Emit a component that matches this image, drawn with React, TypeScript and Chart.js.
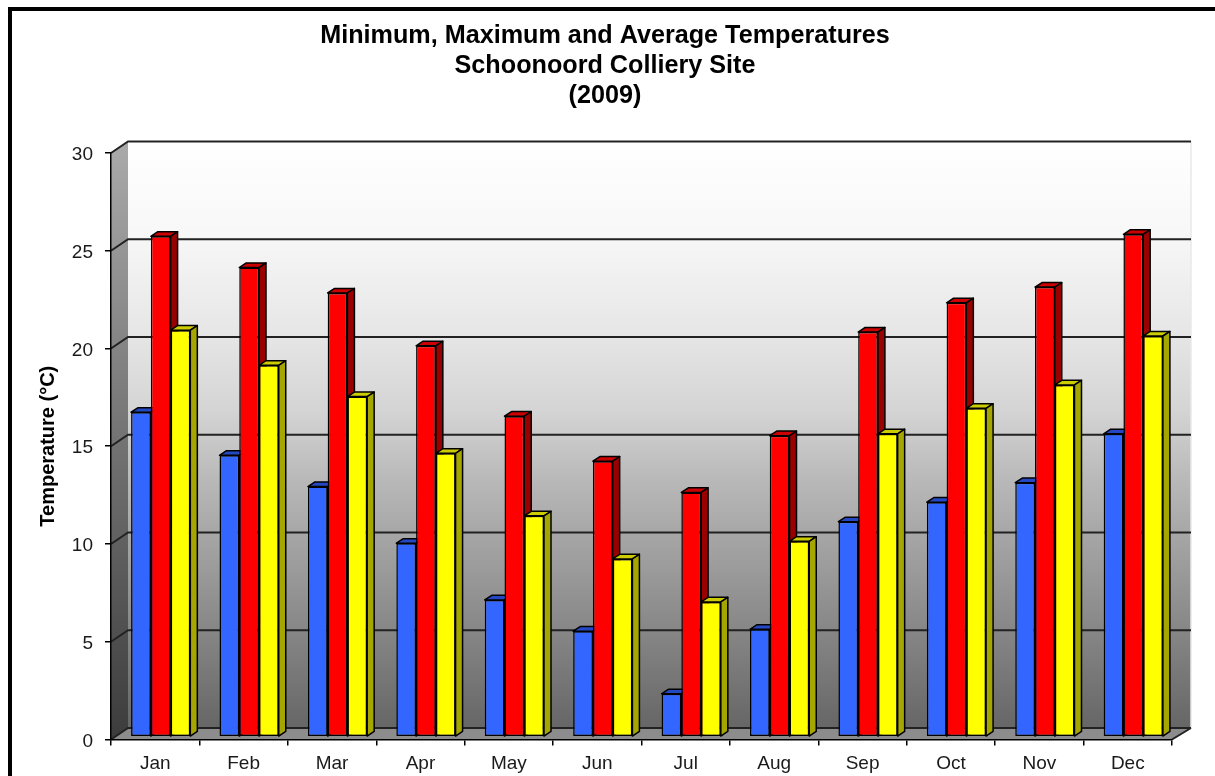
import React, { useEffect, useRef } from "react";
import { Chart, registerables } from "chart.js";

Chart.register(...registerables);

const months = ["Jan", "Feb", "Mar", "Apr", "May", "Jun", "Jul", "Aug", "Sep", "Oct", "Nov", "Dec"];
const minTemps = [16.6, 14.4, 12.8, 9.9, 7.0, 5.4, 2.2, 5.5, 11.0, 12.0, 13.0, 15.5];
const maxTemps = [25.6, 24.0, 22.7, 20.0, 16.4, 14.1, 12.5, 15.4, 20.7, 22.2, 23.0, 25.7];
const avgTemps = [20.8, 19.0, 17.4, 14.5, 11.3, 9.1, 6.9, 10.0, 15.5, 16.8, 18.0, 20.5];
const titleLines = ["Minimum, Maximum and Average Temperatures", "Schoonoord Colliery Site", "(2009)"];

const FONT = "'Liberation Sans', Arial, sans-serif";
const TEXT = "#1a1a1a";
const WALL_DX = 17;
const WALL_DY = 11.5;
const BAR_SHIFT_X = 5.5;
const BAR_SHIFT_Y = 2.7;
const BAR_DX = 7;
const BAR_DY = 4.6;

const topColors = ["#2448c4", "#cc0000", "#cccc00"];
const sideColors = ["#1f3d99", "#990000", "#a6a600"];

const scene = {
  id: "scene",
  beforeDraw(chart: any) {
    const { ctx, chartArea: a, scales } = chart;
    const y = scales.y;
    const backL = a.left + WALL_DX;
    const backR = a.right + 19;
    const backT = a.top - WALL_DY;
    const backB = a.bottom - WALL_DY;
    ctx.save();
    const wall = ctx.createLinearGradient(0, backT, 0, backB);
    wall.addColorStop(0, "#ffffff");
    wall.addColorStop(0.15, "#f8f8f8");
    wall.addColorStop(0.33, "#e6e6e6");
    wall.addColorStop(0.46, "#d4d4d4");
    wall.addColorStop(0.58, "#b8b8b8");
    wall.addColorStop(1, "#666666");
    ctx.fillStyle = wall;
    ctx.fillRect(backL, backT, backR - backL, backB - backT);

    const side = ctx.createLinearGradient(0, a.top, 0, a.bottom);
    side.addColorStop(0, "#a8a8a8");
    side.addColorStop(1, "#3c3c3c");
    ctx.fillStyle = side;
    ctx.beginPath();
    ctx.moveTo(a.left, a.top);
    ctx.lineTo(backL, backT);
    ctx.lineTo(backL, backB);
    ctx.lineTo(a.left, a.bottom);
    ctx.closePath();
    ctx.fill();

    ctx.fillStyle = "#8c8c8c";
    ctx.beginPath();
    ctx.moveTo(a.left, a.bottom);
    ctx.lineTo(backL, backB);
    ctx.lineTo(backR, backB);
    ctx.lineTo(a.right, a.bottom);
    ctx.closePath();
    ctx.fill();

    ctx.strokeStyle = "#e8e8e8";
    ctx.lineWidth = 1.5;
    ctx.beginPath();
    ctx.moveTo(backR, backT);
    ctx.lineTo(backR, backB);
    ctx.stroke();

    ctx.strokeStyle = "#222222";
    ctx.lineWidth = 2;
    y.ticks.forEach((t: any) => {
      const py = y.getPixelForValue(t.value);
      ctx.beginPath();
      ctx.moveTo(a.left, py);
      ctx.lineTo(backL, py - WALL_DY);
      ctx.lineTo(backR, py - WALL_DY);
      ctx.stroke();
    });
    ctx.beginPath();
    ctx.moveTo(a.right, a.bottom);
    ctx.lineTo(backR, backB);
    ctx.stroke();
    ctx.restore();
  },
  beforeDatasetsDraw(chart: any) {
    const { ctx } = chart;
    ctx.save();
    ctx.translate(BAR_SHIFT_X, -BAR_SHIFT_Y);
    ctx.strokeStyle = "#000000";
    ctx.lineWidth = 1.5;
    ctx.lineJoin = "round";
    chart.data.datasets.forEach((_: any, di: number) => {
      chart.getDatasetMeta(di).data.forEach((bar: any) => {
        const l = bar.x - bar.width / 2;
        const r = bar.x + bar.width / 2;
        const t = bar.y;
        const b = bar.base;
        ctx.fillStyle = topColors[di];
        ctx.beginPath();
        ctx.moveTo(l, t);
        ctx.lineTo(l + BAR_DX, t - BAR_DY);
        ctx.lineTo(r + BAR_DX, t - BAR_DY);
        ctx.lineTo(r, t);
        ctx.closePath();
        ctx.fill();
        ctx.stroke();
        ctx.fillStyle = sideColors[di];
        ctx.beginPath();
        ctx.moveTo(r, t);
        ctx.lineTo(r + BAR_DX, t - BAR_DY);
        ctx.lineTo(r + BAR_DX, b - BAR_DY);
        ctx.lineTo(r, b);
        ctx.closePath();
        ctx.fill();
        ctx.stroke();
      });
    });
  },
  afterDatasetsDraw(chart: any) {
    chart.ctx.restore();
  },
};

export default function App() {
  const ref = useRef<HTMLCanvasElement>(null);
  useEffect(() => {
    const bar = (label: string, data: number[], backgroundColor: string) => ({
      label,
      data,
      backgroundColor,
      borderColor: "#000000",
      borderWidth: 1.5,
      borderSkipped: false,
      categoryPercentage: 0.67,
      barPercentage: 1,
      clip: false as const,
    });
    const chart = new Chart(ref.current!, {
      type: "bar",
      data: {
        labels: months,
        datasets: [
          bar("Minimum", minTemps, "#3366ff"),
          bar("Maximum", maxTemps, "#ff0000"),
          bar("Average", avgTemps, "#ffff00"),
        ],
      },
      plugins: [scene],
      options: {
        animation: false,
        responsive: false,
        layout: { padding: { left: 38, right: 43, top: 21, bottom: 0 } },
        plugins: {
          legend: { display: false },
          tooltip: { enabled: false },
          title: {
            display: true,
            text: titleLines,
            color: "#000000",
            font: { family: FONT, size: 25.2, weight: "bold", lineHeight: 1.19 },
            padding: { top: 0, bottom: 42 },
          },
        },
        scales: {
          x: {
            afterFit: (s: any) => { s.height = 36.5; },
            grid: { drawOnChartArea: false, drawTicks: true, tickLength: 6, color: "#000000", lineWidth: 1.5 },
            border: { display: true, color: "#000000", width: 1.5 },
            ticks: { color: TEXT, padding: 7, maxRotation: 0, font: { family: FONT, size: 19 } },
          },
          y: {
            min: 0,
            max: 30,
            afterFit: (s: any) => { s.width = 73; },
            grid: { drawOnChartArea: false, drawTicks: true, tickLength: 6, color: "#000000", lineWidth: 1.5 },
            border: { display: true, color: "#000000", width: 1.5 },
            ticks: { stepSize: 5, color: TEXT, padding: 12, labelOffset: 2, font: { family: FONT, size: 19 } },
            title: {
              display: true,
              text: "Temperature (°C)",
              color: "#000000",
              padding: 0,
              font: { family: FONT, size: 20, weight: "bold", lineHeight: 1 },
            },
          },
        },
      },
    } as any);
    return () => chart.destroy();
  }, []);
  return (
    <>
      <div style={{ position: "absolute", left: 8, top: 7, width: 1207, height: 769, boxSizing: "border-box", borderTop: "4px solid #000", borderLeft: "4px solid #000" }} />
      <canvas ref={ref} width={1215} height={776} style={{ position: "absolute", left: 0, top: 0, display: "block" }} />
    </>
  );
}
